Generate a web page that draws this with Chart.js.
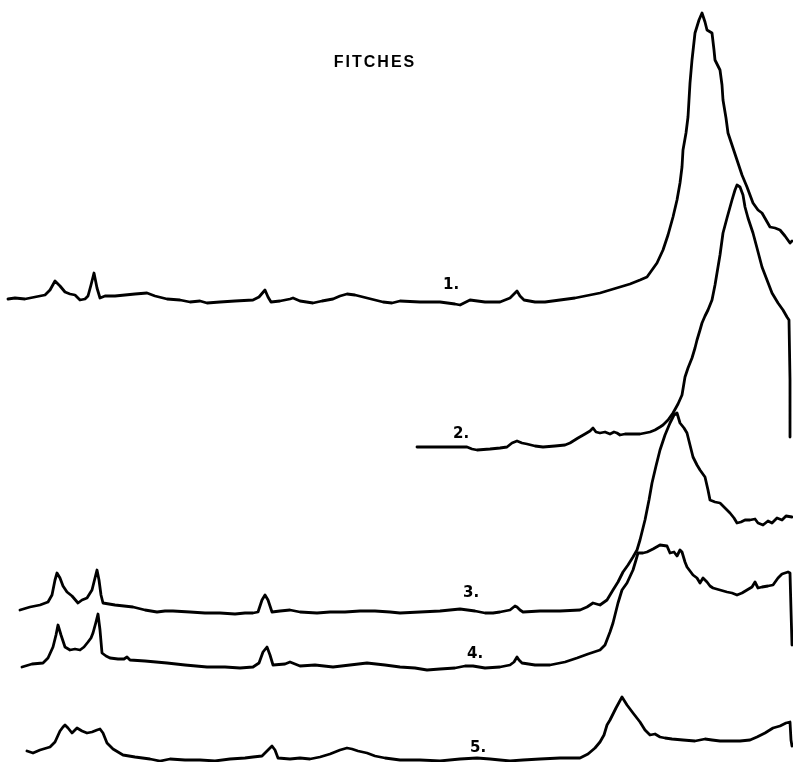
<!DOCTYPE html>
<html>
<head>
<meta charset="utf-8">
<script src="https://cdn.jsdelivr.net/npm/chart.js@4/dist/chart.umd.min.js"></script>
<style>
  html, body { margin: 0; padding: 0; background: #fff; }
  #wrap { position: relative; width: 793px; height: 762px; }
</style>
</head>
<body>
<div id="wrap"><canvas id="c" width="793" height="762"></canvas></div>
<script>
// Trace positions (horizontal) and deflections (measured downward from the top of the sheet)
const trace1X = [8,15,25,35,45,50,55,60,65,70,75,80,85,88,91,94,97,100,105,115,125,135,147,155,167,180,190,200,207,220,235,253,259,265,268,271,280,290,293,300,313,322,333,340,347,355,367,375,383,392,400,420,440,455,460,470,485,500,510,514,517,520,524,535,545,560,575,590,600,610,620,630,640,647,652,657,663,668,673,677,680,682,683,686,688,689,690,692,695,699,702,705,707,712,714,715,720,722,723,726,728,732,737,742,747,753,758,762,766,770,775,780,785,790,792];
const trace1Y = [299,298,299,297,295,290,281,286,292,294,295,300,299,296,285,273,288,298,296,296,295,294,293,296,299,300,302,301,303,302,301,300,297,290,297,302,301,299,298,301,303,301,299,296,294,295,298,300,302,303,301,302,302,304,305,300,302,302,298,294,291,296,300,302,302,300,298,295,293,290,287,284,280,277,270,263,250,235,217,200,183,167,150,133,117,100,83,60,33,20,13,22,30,33,50,60,70,85,100,118,133,145,160,175,187,203,210,213,220,227,228,230,236,243,241];

const trace2X = [417,440,467,472,477,490,500,507,512,517,522,527,535,543,555,565,570,578,585,590,593,596,600,605,610,614,617,620,625,633,640,645,650,655,660,663,668,673,678,682,685,688,692,695,697,700,702,705,708,712,715,717,720,723,727,732,735,737,740,743,745,748,753,757,762,767,772,778,783,787,789,790,790];
const trace2Y = [447,447,447,449,450,449,448,447,443,441,443,444,446,447,446,445,443,438,434,431,428,432,433,432,434,432,433,435,434,434,434,433,432,430,427,425,420,413,404,395,377,368,358,348,340,330,323,316,310,300,285,273,255,233,218,200,190,185,187,195,207,218,233,248,267,280,293,303,310,317,320,380,437];

const trace3X = [20,30,40,48,52,55,57,60,63,67,72,78,82,87,92,95,97,99,101,103,115,133,145,157,165,173,190,205,220,235,245,253,258,262,265,268,272,280,290,300,317,330,345,360,375,390,400,420,440,460,475,485,493,500,510,515,517,520,523,540,560,580,587,593,600,607,613,618,623,628,633,637,640,645,649,652,656,660,665,670,674,677,680,684,687,690,693,697,700,705,708,710,715,720,725,730,734,737,741,745,750,755,758,763,768,772,777,782,786,792];
const trace3Y = [610,607,605,602,595,580,573,578,586,592,596,603,600,598,590,578,570,580,595,603,605,607,610,612,611,611,612,613,613,614,613,613,612,600,595,600,612,611,610,612,613,612,612,611,611,612,613,612,611,609,611,613,613,612,610,606,607,610,612,611,611,610,607,603,605,600,590,582,572,565,557,550,540,520,500,483,466,450,435,423,415,413,423,428,433,445,457,465,470,477,490,500,502,503,508,513,518,523,522,520,520,519,523,525,521,523,518,520,516,517];

const trace4X = [22,32,43,48,53,56,58,61,65,70,75,80,84,88,91,93,96,98,100,102,106,110,118,124,127,130,145,167,185,207,225,240,253,259,263,267,270,273,285,290,300,315,333,350,367,385,400,415,427,440,455,465,473,485,500,510,514,517,519,522,535,550,565,577,588,600,605,610,613,618,622,627,633,636,638,643,647,653,660,667,670,674,677,680,682,685,687,693,697,700,703,707,710,713,720,727,732,737,742,747,752,755,758,762,768,773,778,782,788,790,791,792];
const trace4Y = [667,664,663,658,647,635,625,635,647,650,649,650,647,642,638,633,622,614,630,653,656,658,659,659,657,660,661,663,665,667,667,668,667,663,652,647,655,665,664,662,666,665,667,665,663,665,667,668,670,669,668,666,666,668,667,665,662,657,660,663,665,665,662,658,654,650,645,632,623,603,590,583,570,560,553,553,552,549,545,546,553,552,556,550,552,562,567,575,578,583,578,582,586,588,590,592,593,595,593,590,587,582,588,587,586,585,578,574,572,573,610,645];

const trace5X = [27,33,40,50,55,60,63,65,68,72,75,77,82,87,92,97,100,103,107,113,123,135,150,160,170,185,200,215,230,245,253,262,268,272,275,278,290,300,310,320,330,340,347,352,358,367,375,385,400,420,440,460,477,490,500,510,523,540,560,580,588,595,600,604,607,610,616,622,627,633,640,645,650,655,660,665,672,683,695,705,712,720,730,740,750,757,765,773,780,786,790,791,792];
const trace5Y = [751,753,750,747,742,731,727,725,728,733,730,728,731,733,732,730,729,733,743,749,755,757,759,761,759,760,760,761,759,758,757,756,750,746,750,758,759,758,759,757,754,750,748,749,751,753,756,758,760,760,761,759,758,759,760,761,760,759,758,758,754,748,742,735,725,720,708,697,705,713,722,730,735,734,737,738,739,740,741,739,740,741,741,741,740,737,733,728,726,723,722,740,746];

// Trace labels
const traceLabels = ['1.', '2.', '3.', '4.', '5.'];
const labelX = [443, 453, 463, 467, 470];
const labelY = [289, 438, 597, 658, 752];

const titleText = 'FITCHES';
const titleX = 375;
const titleY = 67;

const traces = [
  [trace1X, trace1Y],
  [trace2X, trace2Y],
  [trace3X, trace3Y],
  [trace4X, trace4Y],
  [trace5X, trace5Y]
];

const datasets = traces.map(([xs, ys], i) => ({
  label: traceLabels[i],
  data: xs.map((x, k) => ({ x: x, y: ys[k] })),
  showLine: true,
  borderColor: '#000',
  borderWidth: 2.8,
  pointRadius: 0,
  tension: 0,
  fill: false,
  clip: false,
  borderJoinStyle: 'round',
  borderCapStyle: 'round'
}));

const textPlugin = {
  id: 'textPlugin',
  afterDatasetsDraw(chart) {
    const ctx = chart.ctx;
    const sx = chart.scales.x, sy = chart.scales.y;
    ctx.save();
    ctx.fillStyle = '#000';
    ctx.textBaseline = 'alphabetic';
    ctx.textAlign = 'center';
    ctx.font = 'bold 16px "Liberation Sans", Arial, sans-serif';
    if ('letterSpacing' in ctx) ctx.letterSpacing = '2px';
    ctx.fillText(titleText, sx.getPixelForValue(titleX), sy.getPixelForValue(titleY));
    if ('letterSpacing' in ctx) ctx.letterSpacing = '0px';
    ctx.textAlign = 'left';
    ctx.font = 'bold 15px "DejaVu Sans", sans-serif';
    traceLabels.forEach((t, i) => {
      ctx.fillText(t, sx.getPixelForValue(labelX[i]), sy.getPixelForValue(labelY[i]));
    });
    ctx.restore();
  }
};

new Chart(document.getElementById('c'), {
  type: 'scatter',
  data: { datasets },
  options: {
    responsive: false,
    animation: false,
    events: [],
    layout: { padding: 0 },
    plugins: { legend: { display: false }, tooltip: { enabled: false }, title: { display: false } },
    scales: {
      x: { type: 'linear', min: 0, max: 793, display: false },
      y: { type: 'linear', min: 0, max: 762, reverse: true, display: false }
    }
  },
  plugins: [textPlugin]
});
</script>
</body>
</html>
